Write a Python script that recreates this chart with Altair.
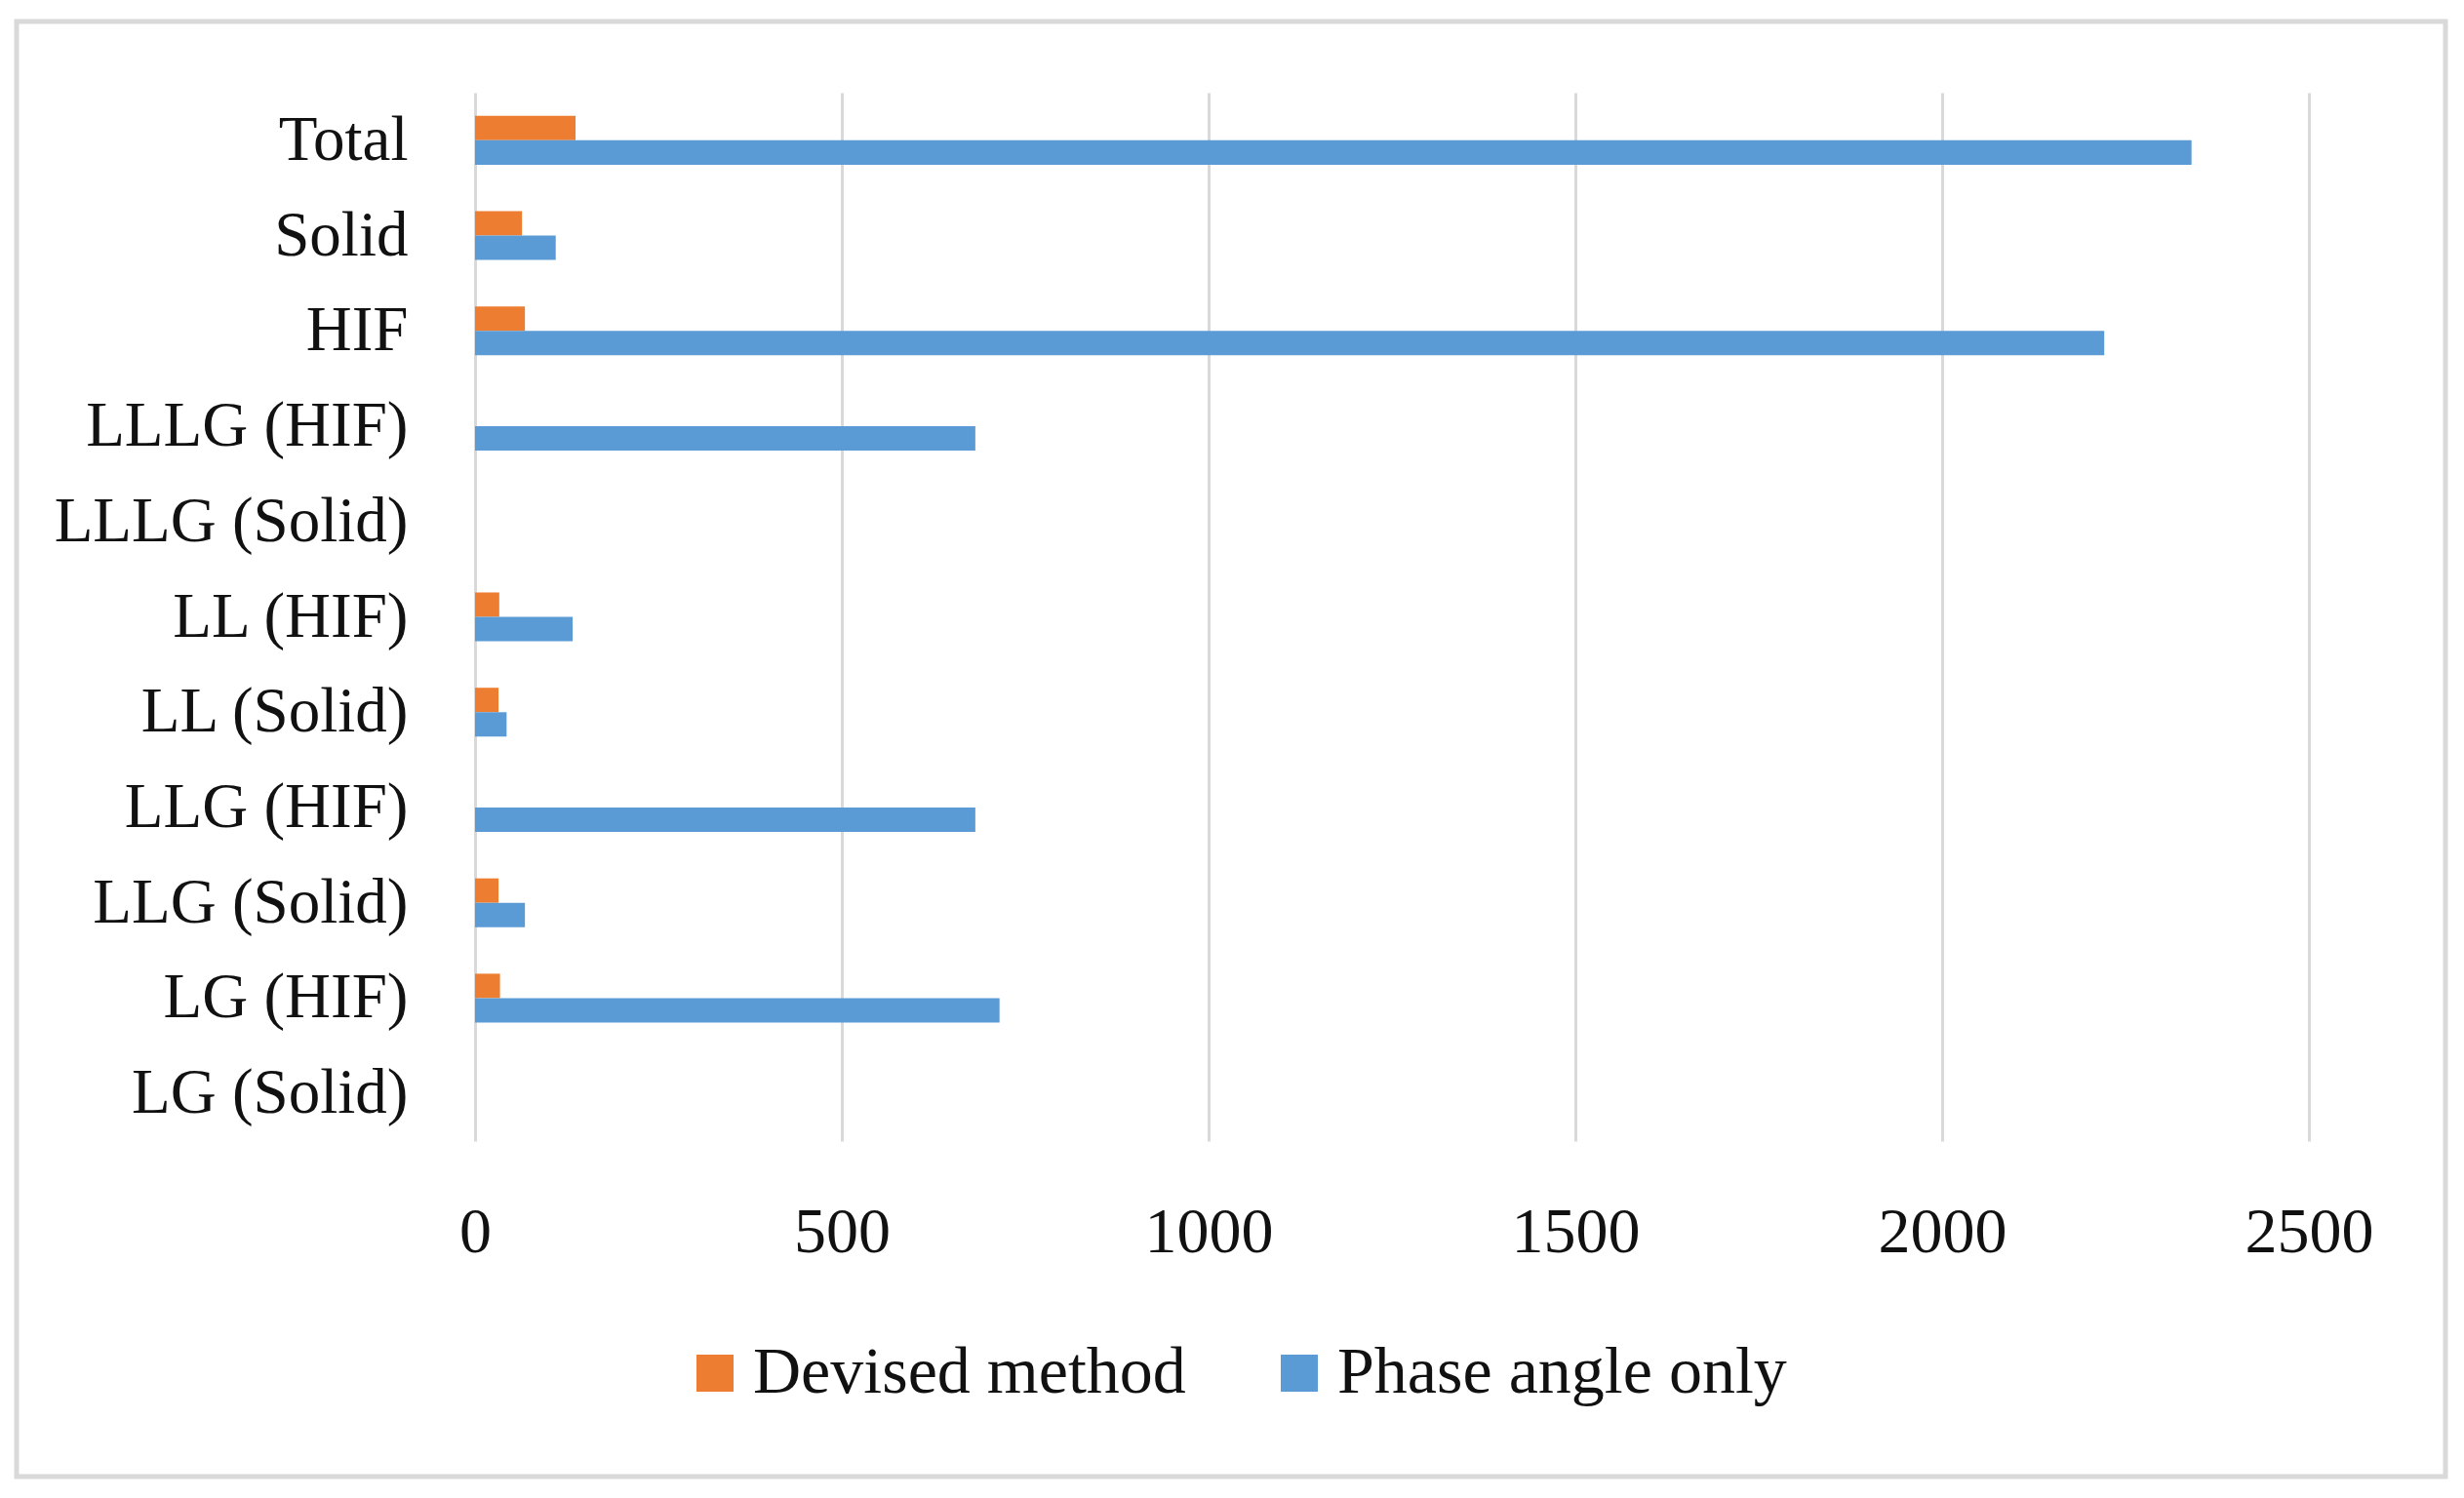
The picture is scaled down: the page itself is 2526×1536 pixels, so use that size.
import altair as alt
import pandas as pd

categories = ["Total", "Solid", "HIF", "LLLG (HIF)", "LLLG (Solid)", "LL (HIF)",
              "LL (Solid)", "LLG (HIF)", "LLG (Solid)", "LG (HIF)", "LG (Solid)"]
series = ["Devised method", "Phase angle only"]
devised = [137, 64, 68, 0, 0, 33, 32, 0, 32, 34, 0]
phase = [2340, 110, 2221, 682, 0, 133, 43, 682, 68, 715, 0]
x_ticks = [0, 500, 1000, 1500, 2000, 2500]

ORANGE = "#ED7D31"
BLUE = "#5B9BD5"
FONT = "Liberation Serif"

rows = []
for c, d, p in zip(categories, devised, phase):
    rows.append({"category": c, "series": series[0], "value": d})
    rows.append({"category": c, "series": series[1], "value": p})
df = pd.DataFrame(rows)

bars = alt.Chart(df).mark_bar().encode(
    x=alt.X("value:Q",
            scale=alt.Scale(domain=[0, 2500], nice=False),
            axis=alt.Axis(values=x_ticks, format="d", title=None, grid=True, domain=False,
                          ticks=False, gridColor="#D9D9D9", gridWidth=3, labelFontSize=66,
                          labelFont=FONT, labelColor="#111111", labelPadding=61,
                          labelFlush=False, labelOverlap=False)),
    y=alt.Y("category:N", sort=categories,
            scale=alt.Scale(paddingInner=0.488, paddingOuter=0.244),
            axis=alt.Axis(title=None, domain=False, ticks=False, grid=False,
                          labelFontSize=65, labelFont=FONT, labelColor="#111111",
                          labelPadding=69, labelLimit=1000)),
    yOffset=alt.YOffset("series:N", sort=series, scale=alt.Scale(paddingInner=0, paddingOuter=0)),
    color=alt.Color("series:N", sort=series,
                    scale=alt.Scale(domain=series, range=[ORANGE, BLUE]),
                    legend=alt.Legend(title=None, orient="none", direction="horizontal",
                                      legendX=212, legendY=1279,
                                      symbolType="square", symbolSize=1444,
                                      symbolStrokeWidth=0,
                                      labelFontSize=68, labelFont=FONT, labelColor="#111111",
                                      labelOffset=5, columnPadding=82, labelLimit=1000)),
)

border = alt.Chart(pd.DataFrame({"b": [0]})).mark_rect(
    fill=None, stroke="#D9D9D9", strokeWidth=5
).encode(
    x=alt.value(-470), x2=alt.value(2020), y=alt.value(-73), y2=alt.value(1419)
)

chart = alt.layer(border, bars).properties(
    width=1880, height=1075,
    padding={"left": 479, "top": 87, "right": 151, "bottom": 358},
    autosize=alt.AutoSizeParams(type="none"),
    background="white",
).configure_view(stroke=None, strokeWidth=0)

chart.save("out.html", embed_options={"renderer": "svg", "actions": False})
